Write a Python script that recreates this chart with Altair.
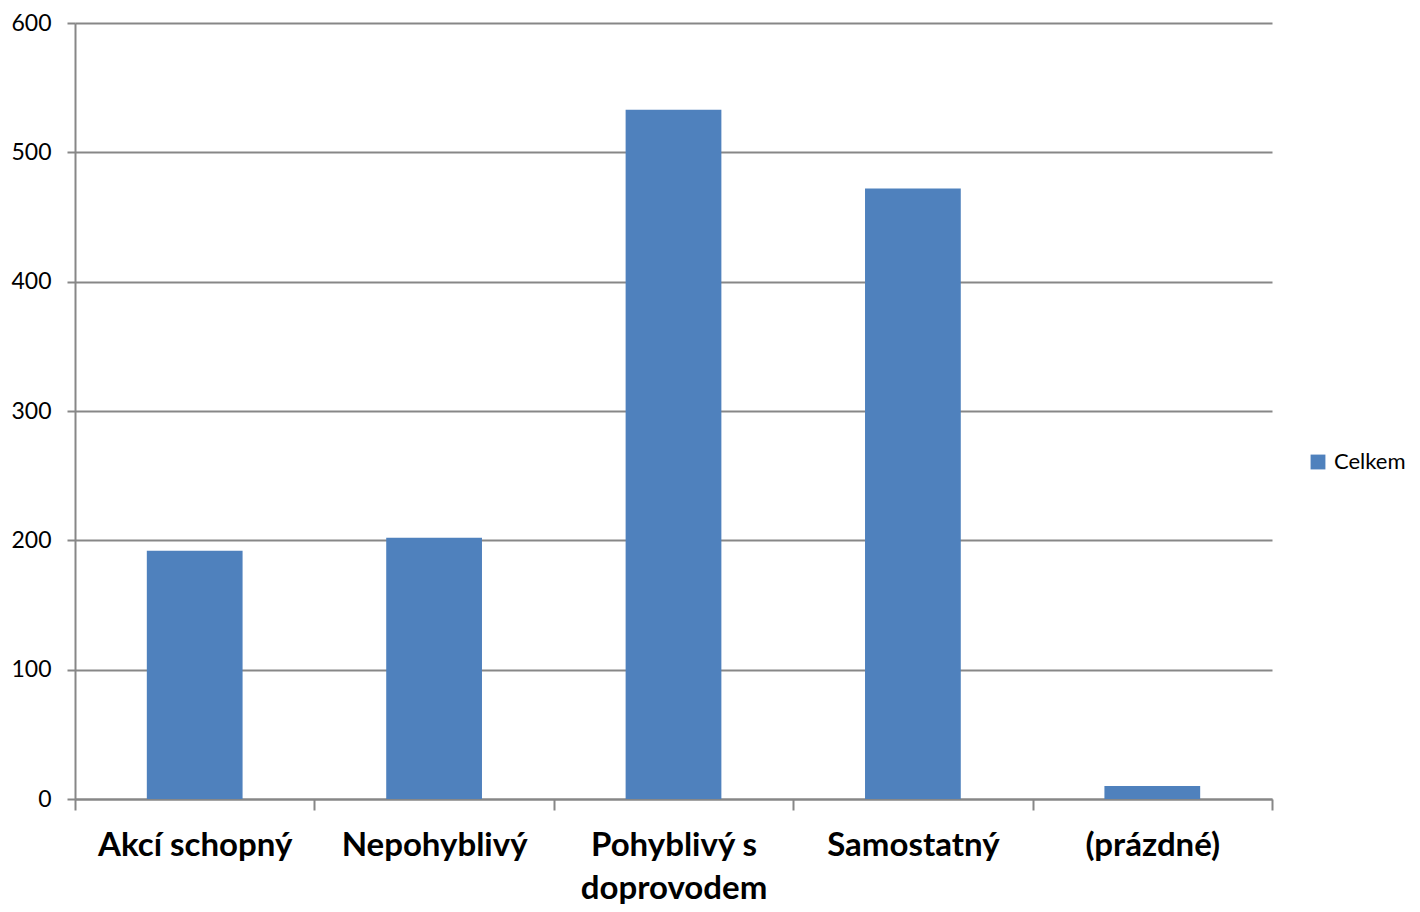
import altair as alt
import pandas as pd

categories = ["Akcí schopný", "Nepohyblivý", "Pohyblivý s|doprovodem", "Samostatný", "(prázdné)"]
values = [192, 202, 533, 472, 10]
series = ["Celkem"] * len(categories)

df = pd.DataFrame({"kategorie": categories, "pocet": values, "serie": series})

FONT = "Lato"
GRID = "#878787"

chart = alt.Chart(df).mark_bar(color="#4F81BD", width=alt.RelativeBandSize(0.4)).encode(
    x=alt.X(
        "kategorie:N",
        sort=categories,
        title=None,
        scale=alt.Scale(paddingInner=0, paddingOuter=0),
        axis=alt.Axis(
            labelAngle=0,
            labelExpr="split(datum.label, '|')",
            labelFont=FONT,
            labelFontSize=33,
            labelFontWeight="bold",
            labelColor="#000000",
            labelPadding=19,
            labelLineHeight=43,
            labelLimit=0,
            tickSize=11,
            tickBand="extent",
            tickColor=GRID,
            tickWidth=2,
            domainColor=GRID,
            domainWidth=2,
            grid=False,
        ),
    ),
    y=alt.Y(
        "pocet:Q",
        title=None,
        scale=alt.Scale(domain=[0, 600]),
        axis=alt.Axis(
            values=[0, 100, 200, 300, 400, 500, 600],
            labelFont=FONT,
            labelFontSize=23,
            labelColor="#000000",
            labelPadding=16,
            tickSize=8,
            tickColor=GRID,
            tickWidth=2,
            domainColor=GRID,
            domainWidth=2,
            gridColor=GRID,
            gridWidth=2,
        ),
    ),
    fill=alt.Fill(
        "serie:N",
        scale=alt.Scale(range=["#4F81BD"]),
        legend=alt.Legend(
            title=None,
            orient="none",
            legendX=1232,
            legendY=428,
            symbolType="square",
            symbolSize=220,
            symbolStrokeWidth=0,
            labelFont=FONT,
            labelFontSize=22,
            labelColor="#000000",
            labelOffset=5,
            labelLimit=0,
        ),
    ),
).properties(
    width=1197,
    height=776,
    padding={"left": 67, "top": 15, "right": 140, "bottom": 105},
    autosize=alt.AutoSizeParams(type="none"),
).configure(background="white").configure_view(stroke=None)

chart.save("out.html", embed_options={"renderer": "svg", "actions": False})
